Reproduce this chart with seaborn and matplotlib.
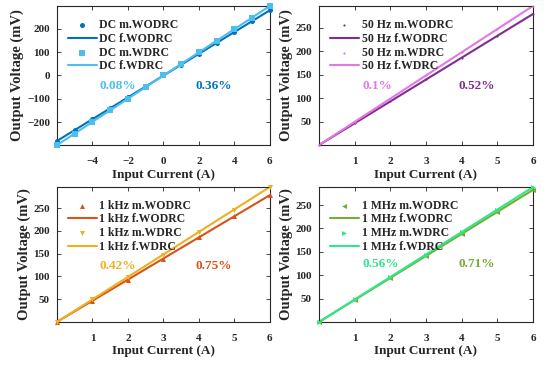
import numpy as np
import matplotlib
matplotlib.use("Agg")
import matplotlib.pyplot as plt
import seaborn as sns

# ---- data ----
x_dc = [-6, -5, -4, -3, -2, -1, 0, 1, 2, 3, 4, 5, 6]
dc_wodrc = [-280, -233, -187, -140, -93, -47, 0, 46, 93, 139, 185, 232, 278]
dc_wdrc = [-297, -248, -198, -149, -99, -50, 0, 49, 99, 148, 198, 247, 297]

x_ac = [0, 1, 2, 3, 4, 5, 6]
hz50_wodrc = [0, 46.5, 93, 140, 186, 233, 280]
hz50_wdrc = [0, 49.5, 99, 148.5, 198, 247.5, 297]
khz1_wodrc = [0, 47, 93, 139, 186, 232, 279]
khz1_wdrc = [0, 49.5, 99, 148, 198, 247, 297]
mhz1_wodrc = [0, 47, 94, 141, 188, 235, 283]
mhz1_wdrc = [0, 48, 96, 144, 192, 240, 289]

panels = [
    # name, x, wodrc, wdrc, markers, colors, pct labels, pct positions, xlim, ylim, xticks, yticks
    ("DC", x_dc, dc_wodrc, dc_wdrc, ("o", "s"), ("#0072BD", "#4DBEEE"),
     ("0.36%", "0.08%"), ((2.85, -47), (-2.55, -47)), (-6, 6), (-297, 297),
     [-4, -2, 0, 2, 4, 6], [-200, -100, 0, 100, 200]),
    ("50 Hz", x_ac, hz50_wodrc, hz50_wdrc, (".", "."), ("#7E2F8E", "#E377E6"),
     ("0.52%", "0.1%"), ((4.43, 125), (1.65, 125)), (0, 6), (0, 297),
     [1, 2, 3, 4, 5, 6], [50, 100, 150, 200, 250]),
    ("1 kHz", x_ac, khz1_wodrc, khz1_wdrc, ("^", "v"), ("#D95319", "#EDB120"),
     ("0.75%", "0.42%"), ((4.42, 124), (1.72, 124)), (0, 6), (0, 297),
     [1, 2, 3, 4, 5, 6], [50, 100, 150, 200, 250]),
    ("1 MHz", x_ac, mhz1_wodrc, mhz1_wdrc, ("<", ">"), ("#77AC30", "#2EE88A"),
     ("0.71%", "0.56%"), ((4.43, 123), (1.74, 123)), (0, 6), (0, 289),
     [1, 2, 3, 4, 5, 6], [50, 100, 150, 200, 250]),
]

sns.set_theme(style="ticks")
plt.rcParams["font.family"] = ["Liberation Serif", "DejaVu Serif"]
plt.rcParams["font.weight"] = "bold"
plt.rcParams["axes.labelweight"] = "bold"

fig = plt.figure(figsize=(5.5, 3.7), dpi=100)
rects = [
    [0.1036, 0.608, 0.387, 0.376],
    [0.580, 0.608, 0.389, 0.376],
    [0.1036, 0.130, 0.387, 0.365],
    [0.580, 0.130, 0.389, 0.365],
]

for rect, (name, x, wo, wd, mk, cols, pct, pct_xy, xl, yl, xt, yt) in zip(rects, panels):
    ax = fig.add_axes(rect)
    ms = 13 if mk[0] != "." else 10
    # measured points and linear fits
    sns.scatterplot(x=x, y=wo, marker=mk[0], color=cols[0], s=ms, linewidth=0,
                    label=f"{name} m.WODRC", ax=ax, zorder=3, clip_on=False)
    k, b = np.polyfit(x, wo, 1)
    sns.lineplot(x=x, y=np.polyval([k, b], x), color=cols[0], linewidth=1.5,
                 label=f"{name} f.WODRC", ax=ax)
    sns.scatterplot(x=x, y=wd, marker=mk[1], color=cols[1], s=ms, linewidth=0,
                    label=f"{name} m.WDRC", ax=ax, zorder=3, clip_on=False)
    k, b = np.polyfit(x, wd, 1)
    sns.lineplot(x=x, y=np.polyval([k, b], x), color=cols[1], linewidth=1.5,
                 label=f"{name} f.WDRC", ax=ax)

    ax.set_xlim(*xl)
    ax.set_ylim(*yl)
    ax.set_xticks(xt)
    ax.set_yticks(yt)
    ax.tick_params(direction="in", top=True, right=True, labelsize=8, length=3,
                   width=0.6)
    ax.tick_params(axis="x", pad=8.5)
    ax.tick_params(axis="y", pad=5)
    for lab in ax.get_xticklabels() + ax.get_yticklabels():
        lab.set_fontweight("bold")
    for sp in ax.spines.values():
        sp.set_linewidth(0.8)
    ax.set_xlabel("Input Current (A)", fontsize=9.5, labelpad=2)
    ax.set_ylabel("Output Voltage (mV)", fontsize=10.5, labelpad=2)

    for txt, (tx, ty), c in zip(pct, pct_xy, cols):
        ax.text(tx, ty, txt, color=c, fontsize=9.5, fontweight="bold",
                ha="center", va="center")

    ax.legend(loc="upper left", bbox_to_anchor=(0.05, 0.905), frameon=False,
              handlelength=2.5, handletextpad=0.2,
              labelspacing=0.15, borderpad=0, borderaxespad=0,
              prop={"weight": "bold", "size": 8.5})

fig.savefig("out.png", dpi=100)
